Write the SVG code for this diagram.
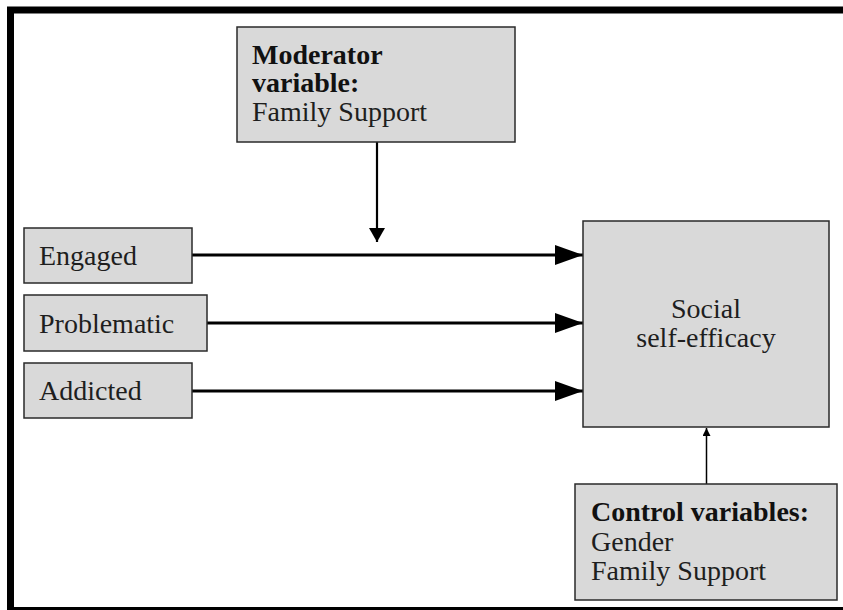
<svg xmlns="http://www.w3.org/2000/svg" width="843" height="610" viewBox="0 0 843 610">
<style>
.box{fill:#d9d9d9;stroke:#2a2a2a;stroke-width:1.5}
.t{font-family:"Liberation Serif","Times New Roman",serif;font-size:28px;fill:#1e1e1e}
.b{font-weight:bold;fill:#111}
.thick{stroke:#000;stroke-width:3.2;fill:none}
.mid{stroke:#000;stroke-width:2.2;fill:none}
.thin{stroke:#000;stroke-width:1.5;fill:none}
</style>
<defs>
<marker id="ah" markerUnits="userSpaceOnUse" markerWidth="30" markerHeight="20" refX="28" refY="10" orient="auto">
<path d="M0,0 L28,10 L0,20 Z" fill="#000"/>
</marker>
<marker id="ahm" markerUnits="userSpaceOnUse" markerWidth="16" markerHeight="16" refX="14" refY="8" orient="auto">
<path d="M0,0 L14,8 L0,16 Z" fill="#000"/>
</marker>
<marker id="ahs" markerUnits="userSpaceOnUse" markerWidth="10" markerHeight="10" refX="8" refY="4" orient="auto">
<path d="M0,0 L8,4 L0,8 Z" fill="#000"/>
</marker>
</defs>
<rect x="0" y="0" width="843" height="610" fill="#fff"/>
<rect x="10.5" y="10" width="1000" height="600.5" fill="none" stroke="#000" stroke-width="7"/>

<g id="connectors">
<line class="mid" x1="377" y1="142" x2="377" y2="242" marker-end="url(#ahm)"/>
<line class="thick" x1="192" y1="255" x2="583" y2="255" marker-end="url(#ah)"/>
<line class="thick" x1="207" y1="323" x2="583" y2="323" marker-end="url(#ah)"/>
<line class="thick" x1="192" y1="391" x2="583" y2="391" marker-end="url(#ah)"/>
<line class="thin" x1="706.5" y1="484" x2="706.5" y2="428" marker-end="url(#ahs)"/>
</g>

<g id="moderator">
<rect class="box" x="237" y="27" width="278" height="115"/>
<text class="t b" x="252" y="64">Moderator</text>
<text class="t b" x="252" y="92">variable:</text>
<text class="t" x="252" y="121">Family Support</text>
</g>

<g id="engaged">
<rect class="box" x="24" y="228" width="168" height="55"/>
<text class="t" x="39" y="265">Engaged</text>
</g>

<g id="problematic">
<rect class="box" x="24" y="295" width="183" height="56"/>
<text class="t" x="39" y="333">Problematic</text>
</g>

<g id="addicted">
<rect class="box" x="24" y="363" width="168" height="55"/>
<text class="t" x="39" y="400">Addicted</text>
</g>

<g id="social">
<rect class="box" x="583" y="221" width="246" height="206"/>
<text class="t" x="706" y="318" text-anchor="middle">Social</text>
<text class="t" x="706" y="347" text-anchor="middle">self-efficacy</text>
</g>

<g id="control">
<rect class="box" x="575" y="484" width="262" height="116"/>
<text class="t b" x="591" y="521">Control variables:</text>
<text class="t" x="591" y="551">Gender</text>
<text class="t" x="591" y="580">Family Support</text>
</g>
</svg>
